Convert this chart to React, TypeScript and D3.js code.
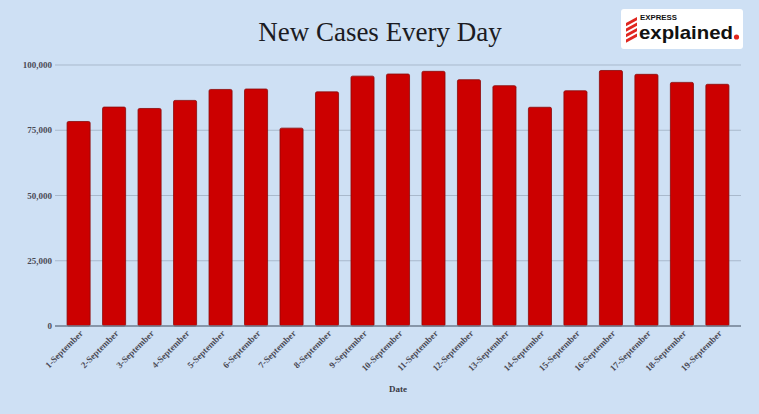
import React, { useRef, useEffect } from 'react';
import * as d3 from 'd3';

const days: string[] = [
  '1-September', '2-September', '3-September', '4-September', '5-September',
  '6-September', '7-September', '8-September', '9-September', '10-September',
  '11-September', '12-September', '13-September', '14-September', '15-September',
  '16-September', '17-September', '18-September', '19-September',
];

const newCases: number[] = [
  78357, 83883, 83341, 86432, 90632, 90802, 75809, 89706, 95735, 96551,
  97570, 94372, 92071, 83809, 90123, 97894, 96424, 93337, 92605,
];

const yTicks: number[] = [0, 25000, 50000, 75000, 100000];

const App: React.FC = () => {
  const width = 759;
  const height = 414;
  const margin = { top: 65, right: 18, bottom: 88, left: 55 };

  const svgRef = useRef<SVGSVGElement | null>(null);

  useEffect(() => {
    const svg = d3.select(svgRef.current);
    svg.selectAll('*').remove();

    const serif = '"Liberation Serif", "DejaVu Serif", serif';
    const sans = '"Liberation Sans", Arial, sans-serif';

    svg.append('rect')
      .attr('width', width)
      .attr('height', height)
      .attr('fill', '#cee0f4');

    // Title
    svg.append('text')
      .attr('x', 380)
      .attr('y', 41)
      .attr('text-anchor', 'middle')
      .attr('font-family', serif)
      .attr('font-size', '27px')
      .attr('fill', '#1b1b22')
      .text('New Cases Every Day');

    const innerW = width - margin.left - margin.right;
    const innerH = height - margin.top - margin.bottom;

    const x = d3.scaleBand<string>()
      .domain(days)
      .range([0, innerW])
      .paddingInner(0.35)
      .paddingOuter(0.34);

    const y = d3.scaleLinear().domain([0, 100000]).range([innerH, 0]);

    const g = svg.append('g').attr('transform', `translate(${margin.left},${margin.top})`);

    // Gridlines
    g.selectAll('.grid')
      .data(yTicks.filter(d => d > 0))
      .enter()
      .append('line')
      .attr('x1', 0)
      .attr('x2', innerW)
      .attr('y1', d => y(d))
      .attr('y2', d => y(d))
      .attr('stroke', '#a9b9cc')
      .attr('stroke-width', 1);

    // Y tick labels
    g.selectAll('.ylab')
      .data(yTicks)
      .enter()
      .append('text')
      .attr('x', -3)
      .attr('y', d => y(d))
      .attr('dy', '0.35em')
      .attr('text-anchor', 'end')
      .attr('font-family', serif)
      .attr('font-size', '9px')
      .attr('font-weight', 'bold')
      .attr('fill', '#4a4a55')
      .text(d => d3.format(',')(d));

    // Bars
    g.selectAll('.bar')
      .data(newCases)
      .enter()
      .append('rect')
      .attr('x', (d, i) => x(days[i]) as number)
      .attr('y', d => y(d))
      .attr('width', x.bandwidth())
      .attr('height', d => innerH - y(d))
      .attr('rx', 1.5)
      .attr('fill', '#cc0000')
      .attr('stroke', '#8a0a0a')
      .attr('stroke-width', 0.8);

    // Baseline
    g.append('line')
      .attr('x1', 0)
      .attr('x2', innerW)
      .attr('y1', innerH)
      .attr('y2', innerH)
      .attr('stroke', '#6f7e90')
      .attr('stroke-width', 1.5);

    // X labels rotated
    g.selectAll('.xlab')
      .data(days)
      .enter()
      .append('text')
      .attr('transform', d => `translate(${(x(d) as number) + x.bandwidth() / 2 + 5},${innerH + 8}) rotate(-45)`)
      .attr('text-anchor', 'end')
      .attr('font-family', serif)
      .attr('font-size', '9px')
      .attr('font-weight', 'bold')
      .attr('fill', '#4a4a55')
      .text(d => d);

    // Axis title
    svg.append('text')
      .attr('x', 398)
      .attr('y', 392)
      .attr('text-anchor', 'middle')
      .attr('font-family', serif)
      .attr('font-size', '9px')
      .attr('font-weight', 'bold')
      .attr('fill', '#3a3a45')
      .text('Date');

    // Logo
    const logo = svg.append('g').attr('transform', 'translate(621,9)');
    logo.append('rect')
      .attr('width', 122)
      .attr('height', 40)
      .attr('rx', 3)
      .attr('fill', '#ffffff');
    [0, 1, 2, 3].forEach(k => {
      logo.append('path')
        .attr('d', `M5,${14 + k * 5.5} l11,-6 l0,3.3 l-11,6 z`)
        .attr('fill', '#e0261f');
    });
    logo.append('text')
      .attr('x', 19)
      .attr('y', 10.5)
      .attr('font-family', sans)
      .attr('font-size', '7.5px')
      .attr('font-weight', 'bold')
      .attr('textLength', 37)
      .attr('lengthAdjust', 'spacingAndGlyphs')
      .attr('fill', '#111')
      .text('EXPRESS');
    logo.append('text')
      .attr('x', 18)
      .attr('y', 30)
      .attr('font-family', sans)
      .attr('font-size', '19px')
      .attr('font-weight', 'bold')
      .attr('textLength', 94)
      .attr('lengthAdjust', 'spacingAndGlyphs')
      .attr('fill', '#111')
      .text('explained');
    logo.append('circle')
      .attr('cx', 115.5)
      .attr('cy', 28)
      .attr('r', 2.6)
      .attr('fill', '#e0261f');
  }, []);

  return (
    <svg
      ref={svgRef}
      width={width}
      height={height}
      style={{ position: 'absolute', left: 0, top: 0, display: 'block' }}
    />
  );
};

export default App;
